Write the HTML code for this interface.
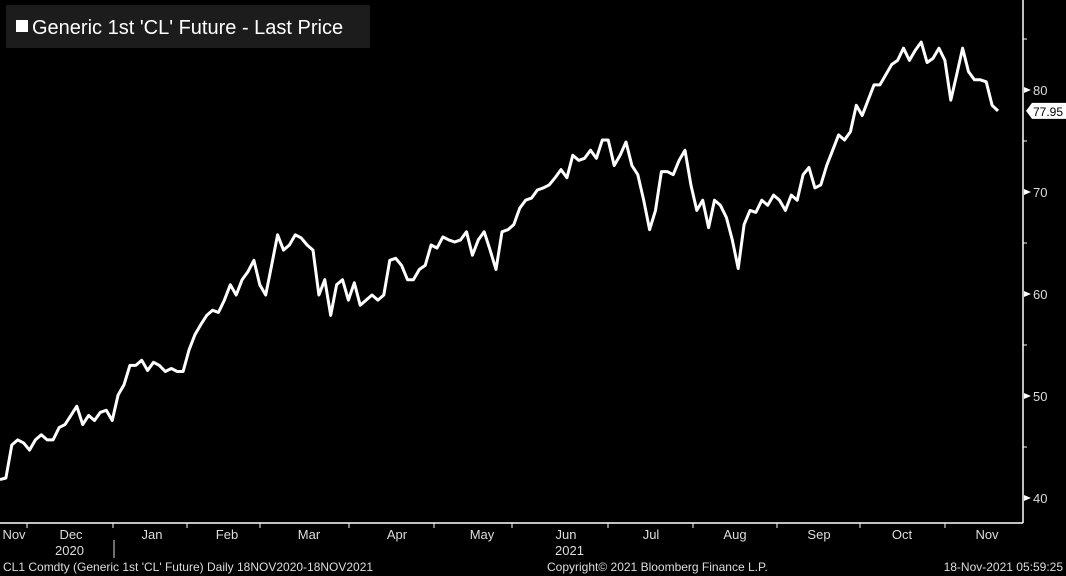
<!DOCTYPE html>
<html><head><meta charset="utf-8"><style>
html,body{margin:0;padding:0;background:#000;}
svg{display:block;font-family:"Liberation Sans",sans-serif;}
</style></head><body>
<svg id="chart" width="1066" height="576" viewBox="0 0 1066 576">
  <rect width="1066" height="576" fill="#000"/>
  <g id="legend">
    <rect x="6" y="5" width="364" height="43" fill="#1c1c1c"/>
    <rect x="16" y="20" width="12" height="12" fill="#fff"/>
    <text x="32" y="34" fill="#fff" font-size="20">Generic 1st 'CL' Future - Last Price</text>
  </g>
  <line x1="1023" y1="0" x2="1023" y2="523" stroke="#fff" stroke-width="1.5"/>
  <line x1="0" y1="523" x2="1023" y2="523" stroke="#fff" stroke-width="1.5"/>
  <g id="yaxis"></g>
  <g id="xaxis"></g>
  <path id="line" fill="none" stroke="#fff" stroke-width="3" stroke-linejoin="round"/>
  <g id="last"></g>
  <text x="55" y="555" fill="#ddd" font-size="13">2020</text>
  <line x1="114" y1="540" x2="114" y2="558" stroke="#ddd"/>
  <text x="555" y="555" fill="#ddd" font-size="13">2021</text>
  <text x="3" y="571" fill="#ddd" font-size="12">CL1 Comdty (Generic 1st 'CL' Future)  Daily 18NOV2020-18NOV2021</text>
  <text x="547" y="571" fill="#ddd" font-size="12">Copyright© 2021 Bloomberg Finance L.P.</text>
  <text x="1063" y="571" fill="#ddd" font-size="12" text-anchor="end">18-Nov-2021 05:59:25</text>
</svg>
<script>
const prices = [41.8,41.96,45.2,45.7,45.4,44.7,45.7,46.2,45.7,45.7,46.9,47.2,48.1,49.0,47.2,48.1,47.6,48.4,48.6,47.6,50.1,51.1,53.0,53.0,53.5,52.5,53.3,53.0,52.4,52.7,52.4,52.4,54.5,56.0,57.0,57.9,58.4,58.2,59.4,60.9,59.9,61.4,62.2,63.3,60.9,59.9,62.8,65.8,64.3,64.8,65.8,65.5,64.8,64.3,59.9,61.4,57.9,60.9,61.4,59.4,61.1,58.9,59.4,59.9,59.4,59.9,63.3,63.5,62.8,61.4,61.4,62.4,62.8,64.8,64.5,65.6,65.3,65.1,65.3,66.1,63.8,65.3,66.1,64.3,62.4,66.1,66.3,66.8,68.4,69.2,69.4,70.2,70.4,70.7,71.4,72.2,71.4,73.6,73.1,73.3,74.1,73.3,75.1,75.1,72.6,73.6,74.9,72.6,71.7,69.2,66.3,68.2,72.0,72.0,71.7,73.1,74.1,70.7,68.2,69.2,66.5,69.2,68.7,67.5,65.3,62.5,66.8,68.2,68.0,69.2,68.7,69.7,69.2,68.2,69.7,69.2,71.7,72.4,70.4,70.7,72.6,74.1,75.6,75.1,75.9,78.5,77.5,79.0,80.5,80.5,81.5,82.5,82.9,84.1,82.9,83.9,84.7,82.7,83.1,84.1,82.9,79.0,81.5,84.1,81.8,81.0,81.0,80.8,78.5,77.95];
const monthLabels = ["Nov","Dec","Jan","Feb","Mar","Apr","May","Jun","Jul","Aug","Sep","Oct","Nov"];
const monthLabelPos = [14,71,152,227,309,397,482,566,651,735,819,902,987];
const monthTickPos = [27,113,187,260,349,434,512,608,693,777,860,945];
const yMajor = [40,50,60,70,80];
const yMinor = [45,55,65,75,85];
const lastValue = 77.95;

const NS="http://www.w3.org/2000/svg";
const yScale = v => 90 + (80 - v) * 10.2;
const xScale = i => i * 998 / (prices.length - 1);
function mk(tag, attrs, parent){const e=document.createElementNS(NS,tag);for(const k in attrs)e.setAttribute(k,attrs[k]);parent.appendChild(e);return e;}

const yg=document.getElementById('yaxis');
yMajor.forEach(v=>{
  const y=yScale(v);
  const t=mk('path',{d:`M1024 ${y-3} L1031 ${y} L1024 ${y+3} Z`,fill:'#fff'},yg);
  
  
  const l=mk('text',{x:1033,y:y+5,fill:'#ddd','font-size':13},yg);
  
  
  l.textContent=v;
});
yMinor.forEach(v=>{
  const y=yScale(v);
  const t=mk('line',{x1:1023,y1:y,x2:1027,y2:y,stroke:'#fff'},yg);
  
  
});
const xg=document.getElementById('xaxis');
monthTickPos.forEach(x=>{
  const t=mk('line',{x1:x,y1:523,x2:x,y2:528,stroke:'#fff'},xg);
  
  
});
monthLabels.forEach((m,i)=>{
  const l=mk('text',{x:monthLabelPos[i],y:539,fill:'#ddd','font-size':13,'text-anchor':'middle'},xg);
  
  
  l.textContent=m;
});
document.getElementById('line').setAttribute('d',prices.map((v,i)=>(i?'L':'M')+xScale(i).toFixed(1)+' '+yScale(v).toFixed(1)).join(' '));
const lg=document.getElementById('last');
const ly=yScale(lastValue);
const lb=mk('path',{d:`M1026 ${ly} L1032 ${ly-8} L1066 ${ly-8} L1066 ${ly+8} L1032 ${ly+8} Z`,fill:'#fff'},lg);


const lt=mk('text',{x:1033,y:ly+5,fill:'#000','font-size':12},lg);


lt.textContent=lastValue.toFixed(2);
</script>
</body></html>
